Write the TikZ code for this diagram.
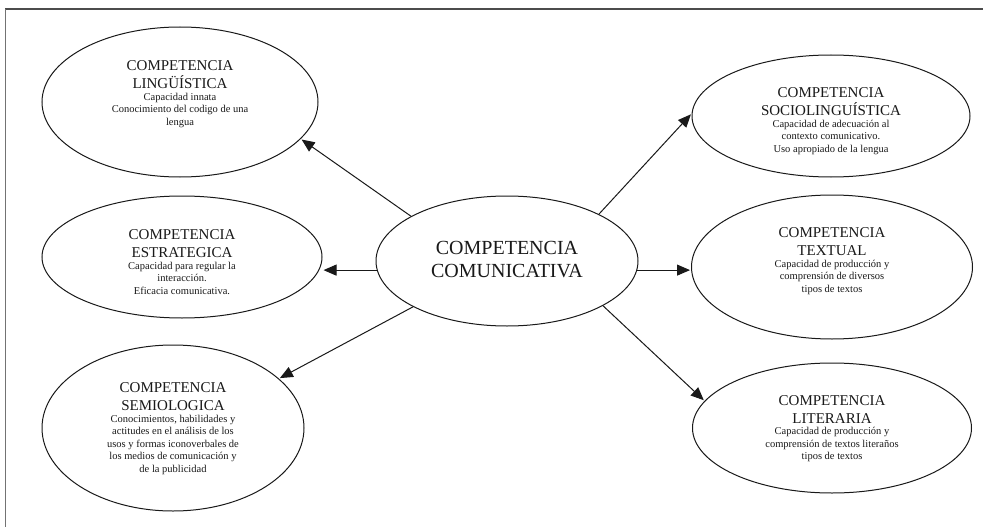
\documentclass[tikz,border=0pt]{standalone}
\usepackage{fontspec}
\setmainfont{Liberation Serif}
\usetikzlibrary{shapes.geometric,arrows.meta}
\tikzset{
  x=1pt,y=-1pt,
  bubble/.style={draw=black!90,line width=1pt,ellipse,inner sep=0pt,fill=white,text=black!90},
  arr/.style={draw=black!90,line width=1pt,shorten >=1pt,-{Triangle[length=13pt,width=11pt]}},
  frame/.style={draw=black!55,line width=0.7pt}
}
\newcommand{\bubtext}[2]{%
  \begin{tabular}{@{}c@{}}%
  \fontsize{15}{18}\selectfont\begin{tabular}{@{}c@{}}#1\end{tabular}\\[-3pt]
  \fontsize{10.5}{12.5}\selectfont\begin{tabular}{@{}c@{}}#2\end{tabular}%
  \end{tabular}}
\newcommand{\bigtext}[1]{%
  \fontsize{20}{23}\selectfont\begin{tabular}{@{}c@{}}#1\end{tabular}}
\begin{document}
\begin{tikzpicture}
\useasboundingbox (0,0) rectangle (983,527);
\fill[white] (0,0) rectangle (983,527);
\coordinate (ftl) at (5,9);
\coordinate (ftr) at (983,9);
\coordinate (fbl) at (5,527);
\draw[frame,line width=1.2pt,draw=black!70] (ftl) -- (ftr);
\draw[frame] (ftl) -- (fbl);

\node[bubble,minimum width=262pt,minimum height=130pt] (c) at (507,261)
  {\bigtext{COMPETENCIA\\COMUNICATIVA}};

\node[bubble,minimum width=276pt,minimum height=150pt] (l) at (180,102)
  {\raisebox{6pt}[0pt][0pt]{\bubtext{COMPETENCIA\\LINGÜÍSTICA}{Capacidad innata\\Conocimiento del codigo de una\\lengua}}};
\node[bubble,minimum width=280pt,minimum height=122pt] (e) at (182,257)
  {\raisebox{-8pt}[0pt][0pt]{\bubtext{COMPETENCIA\\ESTRATEGICA}{Capacidad para regular la\\interacción.\\Eficacia comunicativa.}}};
\node[bubble,minimum width=262pt,minimum height=166pt] (s) at (173,428)
  {\bubtext{COMPETENCIA\\SEMIOLOGICA}{Conocimientos, habilidades y\\actitudes en el análisis de los\\usos y formas iconoverbales de\\los medios de comunicación y\\de la publicidad}};

\node[bubble,minimum width=278pt,minimum height=122pt] (so) at (831,116)
  {\raisebox{-7pt}[0pt][0pt]{\bubtext{COMPETENCIA\\SOCIOLINGUÍSTICA}{Capacidad de adecuación al\\contexto comunicativo.\\Uso apropiado de la lengua}}};
\node[bubble,minimum width=281pt,minimum height=144pt] (t) at (832,267)
  {\raisebox{4pt}[0pt][0pt]{\bubtext{COMPETENCIA\\TEXTUAL}{Capacidad de producción y\\comprensión de diversos\\tipos de textos}}};
\node[bubble,minimum width=279pt,minimum height=130pt] (lit) at (832,428)
  {\bubtext{COMPETENCIA\\LITERARIA}{Capacidad de producción y\\comprensión de textos literaños\\tipos de textos}};

\draw[arr] (c.155) -- (l.-17);
\draw[arr] (c.184) -- (e.east |- c.184);
\draw[arr] (c.206) -- (s.25);
\draw[arr] (c.27) -- (so.179);
\draw[arr] (c.356) -- (t.west |- c.356);
\draw[arr] (c.335) -- (lit.168);
\end{tikzpicture}
\end{document}
